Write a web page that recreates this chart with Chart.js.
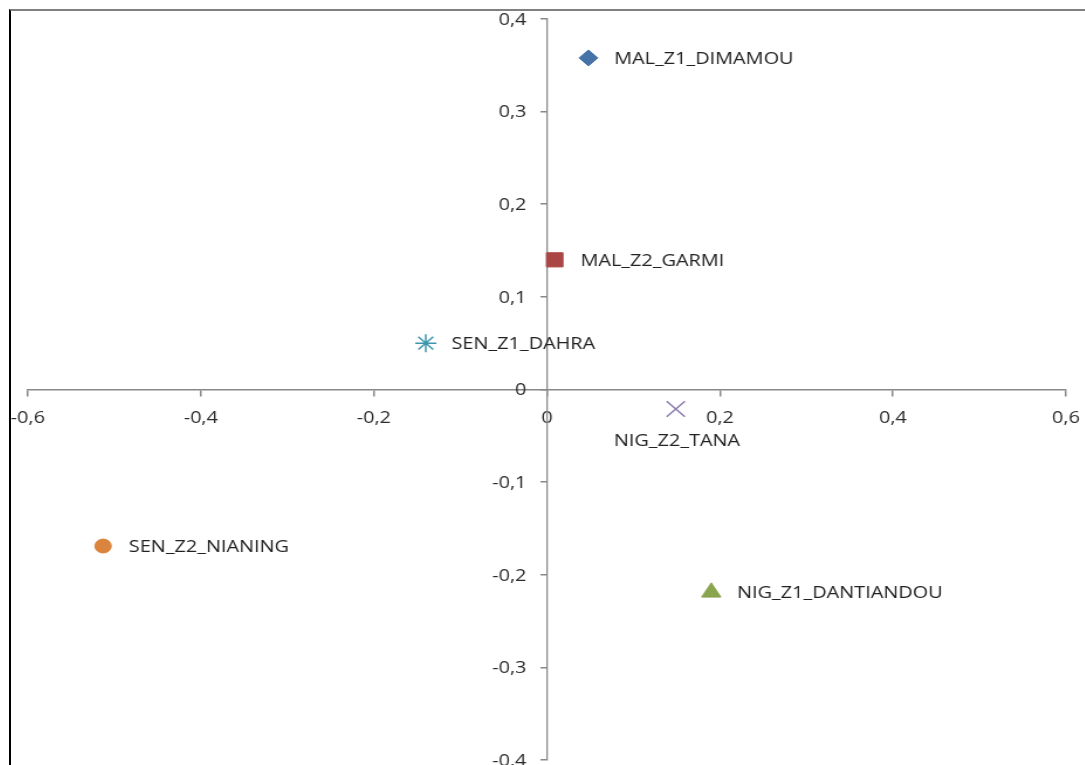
<!DOCTYPE html>
<html>
<head>
<meta charset="utf-8">
<title>Sites</title>
<script src="https://cdn.jsdelivr.net/npm/chart.js@4.4.1/dist/chart.umd.min.js"></script>
<style>
  html, body { margin: 0; padding: 0; background: #fff; overflow: hidden; }
  #cadre { position: absolute; left: 9px; top: 9px; width: 1200px; height: 900px;
           border-top: 2px solid #808080; border-left: 2px solid #000; }
  /* le graphique est étiré horizontalement */
  #zone { position: absolute; left: -19.08px; top: -21px; width: 967px; height: 821px;
          transform: scaleX(1.1704); transform-origin: 0 0; }
</style>
</head>
<body>
<div id="cadre"></div>
<div id="zone"><canvas id="graphique" width="967" height="821"></canvas></div>
<script>
// Sites et coordonnées sur les axes 1 et 2
const sites = ['MAL_Z1_DIMAMOU', 'MAL_Z2_GARMI', 'NIG_Z1_DANTIANDOU', 'NIG_Z2_TANA', 'SEN_Z1_DAHRA', 'SEN_Z2_NIANING'];
const axe1 = [0.048, 0.009, 0.190, 0.149, -0.140, -0.513];
const axe2 = [0.358, 0.140, -0.219, -0.021, 0.050, -0.169];

// Graduations
const ticksX = [-0.6, -0.4, -0.2, 0, 0.2, 0.4, 0.6];
const labelsX = ['-0,6', '-0,4', '-0,2', '0', '0,2', '0,4', '0,6'];
const ticksY = [-0.4, -0.3, -0.2, -0.1, 0, 0.1, 0.2, 0.3, 0.4];
const labelsY = ['-0,4', '-0,3', '-0,2', '-0,1', '0', '0,1', '0,2', '0,3', '0,4'];

// Style des marqueurs
const couleurs = ['#4572A7', '#AA4643', '#89A54E', '#8C7BAE', '#3D96AE', '#DB843D'];
const formes = ['rectRot', 'rect', 'triangle', 'crossRot', 'star', 'circle'];
const tailles = [8, 10, 9.5, 11, 9, 7];
const placement = ['droite', 'droite', 'droite', 'dessous', 'droite', 'droite'];

Chart.defaults.font.family = '"Open Sans", sans-serif';
Chart.defaults.font.size = 17;
Chart.defaults.color = '#2b2b2b';

const police = '17px "Open Sans", sans-serif';

// Libellés de l'axe vertical, à gauche des graduations
const libellesAxeY = {
    id: 'libellesAxeY',
    afterDraw(chart) {
        const ctx = chart.ctx;
        const y = chart.scales.y;
        const x0 = chart.scales.x.getPixelForValue(0);
        ctx.save();
        ctx.font = police;
        ctx.fillStyle = '#2b2b2b';
        ctx.textAlign = 'right';
        ctx.textBaseline = 'middle';
        ticksY.forEach((v, i) => {
            ctx.fillText(labelsY[i], x0 - 17.5, y.getPixelForValue(v) + 1);
        });
        ctx.restore();
    }
};

// Etiquette du nom à côté de chaque point
const etiquettesSites = {
    id: 'etiquettesSites',
    afterDatasetsDraw(chart) {
        const ctx = chart.ctx;
        ctx.save();
        ctx.font = police;
        ctx.fillStyle = '#222222';
        ctx.textBaseline = 'middle';
        chart.data.datasets.forEach((ds, i) => {
            const pt = chart.getDatasetMeta(i).data[0];
            if (placement[i] === 'dessous') {
                ctx.textAlign = 'center';
                ctx.fillText(ds.label, pt.x + 1, pt.y + 32);
            } else {
                ctx.textAlign = 'left';
                ctx.fillText(ds.label, pt.x + 22, pt.y + 1);
            }
        });
        ctx.restore();
    }
};

const axeGris = '#888888';

new Chart(document.getElementById('graphique'), {
    type: 'scatter',
    data: {
        datasets: sites.map((nom, i) => ({
            label: nom,
            data: [{ x: axe1[i], y: axe2[i] }],
            pointStyle: formes[i],
            pointRadius: tailles[i],
            pointHoverRadius: tailles[i],
            backgroundColor: couleurs[i],
            borderColor: couleurs[i],
            borderWidth: (formes[i] === 'star' || formes[i] === 'crossRot') ? 1.5 : 1
        }))
    },
    options: {
        responsive: false,
        animation: false,
        layout: { padding: 40 },
        plugins: {
            legend: { display: false },
            tooltip: { enabled: false }
        },
        scales: {
            x: {
                type: 'linear',
                min: -0.6,
                max: 0.6,
                position: { y: 0 },
                afterBuildTicks: (scale) => { scale.ticks = ticksX.map(v => ({ value: v })); },
                ticks: {
                    padding: 12,
                    autoSkip: false,
                    maxRotation: 0,
                    callback: (v, i) => labelsX[i]
                },
                grid: { drawOnChartArea: false, drawTicks: true, tickLength: 6, color: axeGris, lineWidth: 1.5 },
                border: { color: axeGris, width: 1.5 }
            },
            y: {
                type: 'linear',
                min: -0.4,
                max: 0.4,
                position: { x: 0 },
                afterBuildTicks: (scale) => { scale.ticks = ticksY.map(v => ({ value: v })); },
                ticks: { display: false },
                grid: { drawOnChartArea: false, drawTicks: true, tickLength: 5, color: axeGris, lineWidth: 1.5 },
                border: { color: axeGris, width: 1.3 }
            }
        }
    },
    plugins: [etiquettesSites, libellesAxeY]
});
</script>
</body>
</html>
